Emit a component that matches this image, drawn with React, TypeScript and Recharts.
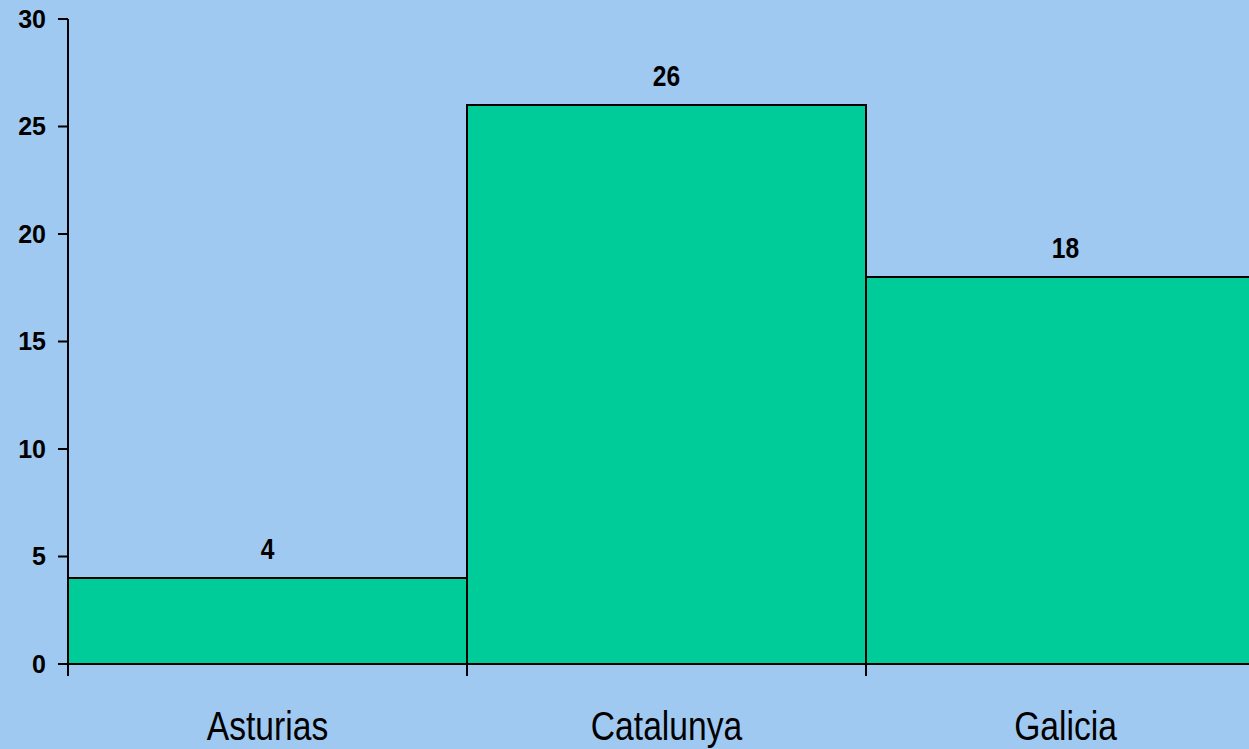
import { BarChart, Bar, XAxis, YAxis, LabelList } from 'recharts';

const regions = ['Asturias', 'Catalunya', 'Galicia'];
const counts = [4, 26, 18];
const yTicks = [0, 5, 10, 15, 20, 25, 30];

const data = regions.map((name, i) => ({ name, value: counts[i] }));

const CHART_W = 1265;
const CHART_H = 749;
const YAXIS_W = 68;
const BAND = (CHART_W - YAXIS_W) / regions.length;
const FONT = '"Liberation Sans", Arial, sans-serif';
// no narrow face installed, so squeeze Liberation Sans horizontally
const SQUEEZE = 0.82;

const CategoryTick = (props: any) => {
  const { x, y, payload } = props;
  const left = x - BAND / 2;
  return (
    <g>
      <line x1={left} x2={left} y1={y - 12} y2={y} stroke="#000" strokeWidth={2} />
      <text
        transform={`translate(${x},${y + 64}) scale(${SQUEEZE},1)`}
        textAnchor="middle"
        fontFamily={FONT}
        fontSize={41}
        fill="#000"
      >
        {payload.value}
      </text>
    </g>
  );
};

const ValueLabel = (props: any) => {
  const { x, y, width, value } = props;
  return (
    <text
      transform={`translate(${x + width / 2},${y - 19}) scale(${SQUEEZE},1)`}
      textAnchor="middle"
      fontFamily={FONT}
      fontSize={30}
      fontWeight="bold"
      fill="#000"
    >
      {value}
    </text>
  );
};

export default function App() {
  return (
    <div
      style={{
        position: 'fixed',
        top: 0,
        left: 0,
        width: 1249,
        height: 749,
        overflow: 'hidden',
        background: '#A0C9F1',
      }}
    >
      <BarChart
        width={CHART_W}
        height={CHART_H}
        data={data}
        margin={{ top: 19, right: 0, left: 0, bottom: 0 }}
        barCategoryGap={0}
      >
        <XAxis
          dataKey="name"
          height={85}
          tickLine={false}
          tickSize={12}
          tickMargin={0}
          axisLine={{ stroke: '#000', strokeWidth: 2 }}
          tick={<CategoryTick />}
          interval={0}
        />
        <YAxis
          width={YAXIS_W}
          domain={[0, 30]}
          ticks={yTicks}
          tickSize={10}
          tickMargin={12}
          axisLine={{ stroke: '#000', strokeWidth: 2 }}
          tickLine={{ stroke: '#000', strokeWidth: 2 }}
          tick={{ fill: '#000', fontSize: 25, fontWeight: 'bold', fontFamily: FONT }}
        />
        <Bar dataKey="value" fill="#00CC99" stroke="#000" strokeWidth={2} isAnimationActive={false}>
          <LabelList dataKey="value" content={<ValueLabel />} />
        </Bar>
      </BarChart>
    </div>
  );
}
